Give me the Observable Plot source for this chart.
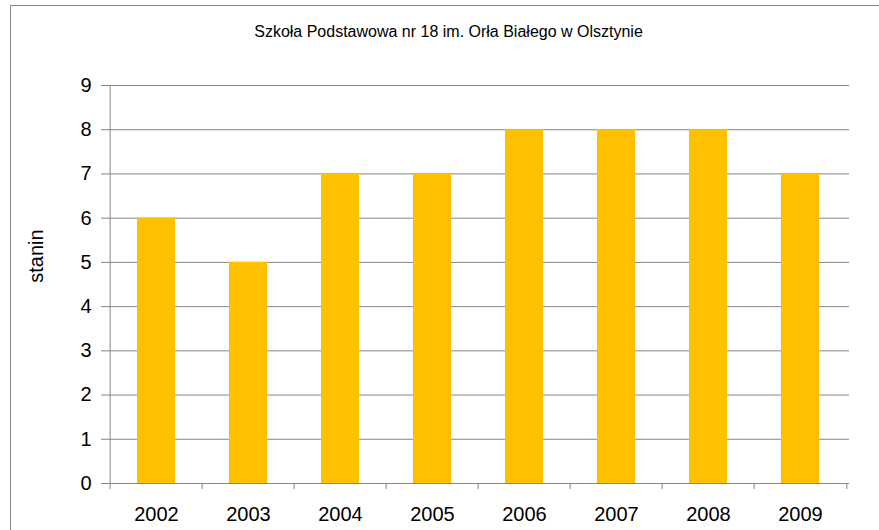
<!DOCTYPE html>
<html>
<head>
<meta charset="utf-8">
<script src="https://cdn.jsdelivr.net/npm/d3@7"></script>
<script src="https://cdn.jsdelivr.net/npm/@observablehq/plot@0.6"></script>
<style>
  html, body { margin: 0; padding: 0; background: #fff; }
  #wrap { position: relative; width: 879px; height: 530px; overflow: hidden; font-family: "Liberation Sans", Arial, sans-serif; }
  #wrap svg { position: absolute; left: 0; top: 0; }
  #border { position: absolute; left: 10px; top: 5px; right: -5px; bottom: -5px; border-top: 1px solid #868686; border-left: 1px solid #868686; pointer-events: none; }
  #ylab { position: absolute; left: 36px; top: 256px; transform: translate(-50%, -50%) rotate(-90deg); font-size: 20px; line-height: 20px; color: #000; white-space: nowrap; }
</style>
</head>
<body>
<div id="wrap"><div id="ylab"></div><div id="border"></div></div>
<script>
const title = "Szkoła Podstawowa nr 18 im. Orła Białego w Olsztynie";
const yLabel = "stanin";
const years = ["2002", "2003", "2004", "2005", "2006", "2007", "2008", "2009"];
const stanin = [6, 5, 7, 7, 8, 8, 8, 7];
const yTicks = [0, 1, 2, 3, 4, 5, 6, 7, 8, 9];

const data = years.map((y, i) => ({year: y, value: stanin[i]}));

const W = 879, H = 530, mL = 107, mR = 30, mT = 85, mB = 47;
const step = (W - mL - mR) / years.length;
const grey = "#868686";

const chart = Plot.plot({
  width: W,
  height: H,
  marginLeft: mL,
  marginRight: mR,
  marginTop: mT,
  marginBottom: mB,
  style: {fontFamily: "'Liberation Sans', Arial, sans-serif", background: "transparent", color: "#000"},
  x: {domain: years, type: "band", paddingInner: 0.59, paddingOuter: 0.295, label: null},
  y: {domain: [0, 9], label: null},
  marks: [
    Plot.gridY(yTicks, {stroke: grey, strokeOpacity: 1, strokeWidth: 1}),
    Plot.barY(data, {x: "year", y: "value", fill: "#FFC000"}),
    Plot.ruleY([0], {stroke: grey, strokeWidth: 1}),
    Plot.ruleX([years[0]], {y1: 0, y2: 9, dx: -step / 2, stroke: grey}),
    Plot.axisY(yTicks, {tickSize: 6, tickPadding: 10, stroke: grey, fontSize: 20, fill: "#000", label: null}),
    Plot.axisX({tickSize: 6, dx: -step / 2, text: null, stroke: grey, label: null}),
    Plot.axisX([years[years.length - 1]], {tickSize: 6, dx: step / 2, text: null, stroke: grey, label: null}),
    Plot.axisX({tickSize: 0, tickPadding: 23, fontSize: 20, fill: "#000", label: null}),
    Plot.text([title], {frameAnchor: "top", lineAnchor: "middle", textAnchor: "middle", dx: -30, dy: -54, fontSize: 16, fill: "#000"})
  ]
});
const wrap = document.getElementById("wrap");
wrap.insertBefore(chart, wrap.firstChild);
document.getElementById("ylab").textContent = yLabel;
</script>
</body>
</html>
